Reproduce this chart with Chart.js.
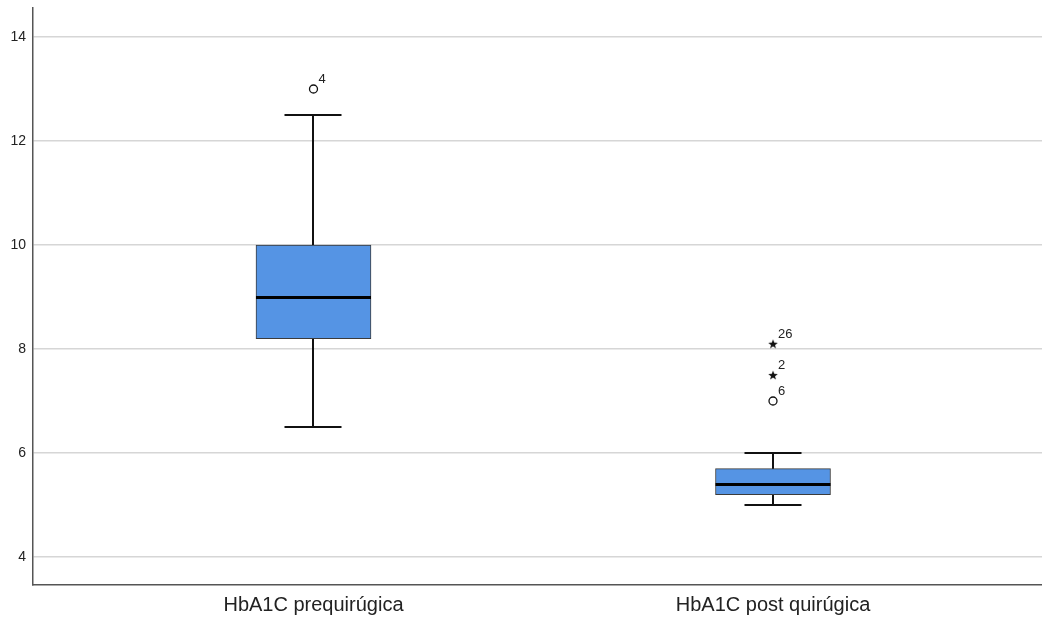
<!DOCTYPE html>
<html lang="es">
<head>
    <meta charset="UTF-8">
    <title>HbA1C boxplot</title>
    <script src="https://cdn.jsdelivr.net/npm/chart.js"></script>
    <style>
        body { margin: 0; background: #fff; }
        #wrap { width: 1042px; height: 622px; position: relative; }
    </style>
</head>
<body>
    <div id="wrap"><canvas id="boxplot"></canvas></div>

    <script>
        // Datos del diagrama de caja
        const categories = ['HbA1C prequirúgica', 'HbA1C post quirúgica'];
        const whiskerLow = [6.5, 5.0];
        const q1 = [8.2, 5.2];
        const median = [9.0, 5.4];
        const q3 = [10.0, 5.7];
        const whiskerHigh = [12.5, 6.0];
        // valores atípicos (círculo) y extremos (estrella)
        const outlierGroup = [1, 2];
        const outlierValues = [13.0, 7.0];
        const outlierLabels = ['4', '6'];
        const extremeGroup = [2, 2];
        const extremeValues = [8.1, 7.5];
        const extremeLabels = ['26', '2'];
        const yTicks = [4, 6, 8, 10, 12, 14];

        const fontFamily = 'Arial, "Liberation Sans", sans-serif';

        // estrella rellena para los extremos
        function makeStar(size) {
            const c = document.createElement('canvas');
            c.width = size; c.height = size;
            const g = c.getContext('2d');
            const r = size / 2, ri = r * 0.42;
            g.beginPath();
            for (let i = 0; i < 10; i++) {
                const rad = i % 2 === 0 ? r : ri;
                const a = -Math.PI / 2 + i * Math.PI / 5;
                const px = r + rad * Math.cos(a), py = r + rad * Math.sin(a) + 0.5;
                if (i === 0) g.moveTo(px, py); else g.lineTo(px, py);
            }
            g.closePath();
            g.fillStyle = '#111';
            g.fill();
            return c;
        }

        const boxData = categories.map((c, i) => ({ x: i + 1, y: [q1[i], q3[i]] }));
        const outlierData = outlierGroup.map((g, i) => ({ x: g, y: outlierValues[i], label: outlierLabels[i] }));
        const extremeData = extremeGroup.map((g, i) => ({ x: g, y: extremeValues[i], label: extremeLabels[i] }));

        // bigotes, tapas y mediana usando las escalas del gráfico
        const boxParts = {
            id: 'boxParts',
            beforeDatasetsDraw(chart) {
                const { ctx, scales: { x, y } } = chart;
                ctx.save();
                ctx.strokeStyle = '#111';
                ctx.lineWidth = 2;
                categories.forEach((c, i) => {
                    const cx = Math.round(x.getPixelForValue(i + 1));
                    const yLo = Math.round(y.getPixelForValue(whiskerLow[i]));
                    const yHi = Math.round(y.getPixelForValue(whiskerHigh[i]));
                    const half = 28.5;
                    ctx.beginPath();
                    ctx.moveTo(cx, yLo); ctx.lineTo(cx, yHi);
                    ctx.moveTo(cx - half, yLo); ctx.lineTo(cx + half, yLo);
                    ctx.moveTo(cx - half, yHi); ctx.lineTo(cx + half, yHi);
                    ctx.stroke();
                });
                ctx.restore();
            },
            afterDatasetsDraw(chart) {
                const { ctx, scales: { x, y } } = chart;
                ctx.save();
                ctx.strokeStyle = '#000';
                ctx.lineWidth = 3;
                categories.forEach((c, i) => {
                    const cx = x.getPixelForValue(i + 1);
                    const ym = Math.round(y.getPixelForValue(median[i])) + 0.5;
                    ctx.beginPath();
                    ctx.moveTo(cx - 57.5, ym); ctx.lineTo(cx + 57.5, ym);
                    ctx.stroke();
                });
                // etiquetas de casos
                ctx.fillStyle = '#222';
                ctx.font = '13px ' + fontFamily;
                ctx.textAlign = 'left';
                ctx.textBaseline = 'alphabetic';
                outlierData.concat(extremeData).forEach(p => {
                    const px = x.getPixelForValue(p.x);
                    const py = y.getPixelForValue(p.y);
                    ctx.fillText(p.label, px + 5, py - 6);
                });
                ctx.restore();
            }
        };

        new Chart(document.getElementById('boxplot'), {
            type: 'bar',
            data: {
                datasets: [{
                    label: 'caja',
                    data: boxData,
                    backgroundColor: '#5594E4',
                    borderColor: '#3b3b3b',
                    borderWidth: 1,
                    borderSkipped: false,
                    barThickness: 115
                }, {
                    type: 'scatter',
                    label: 'atípicos',
                    data: outlierData,
                    pointStyle: 'circle',
                    pointRadius: 4,
                    backgroundColor: '#fff',
                    borderColor: '#111',
                    borderWidth: 1.3
                }, {
                    type: 'scatter',
                    label: 'extremos',
                    data: extremeData,
                    pointStyle: makeStar(10),
                    pointRadius: 5
                }]
            },
            options: {
                responsive: true,
                maintainAspectRatio: false,
                animation: false,
                layout: { autoPadding: false, padding: { top: 8, left: 0, right: 0, bottom: 0 } },
                plugins: {
                    legend: { display: false },
                    tooltip: { enabled: false }
                },
                scales: {
                    x: {
                        type: 'linear',
                        offset: false,
                        min: 0.3896,
                        max: 2.5854,
                        grid: { display: false, drawTicks: false, offset: false },
                        border: { display: true, color: '#555', width: 1.5 },
                        afterBuildTicks(scale) {
                            scale.ticks = categories.map((c, i) => ({ value: i + 1 }));
                        },
                        afterFit(scale) {
                            scale.height = 37;
                            scale.paddingLeft = 0;
                            scale.paddingRight = 0;
                        },
                        ticks: {
                            padding: 8,
                            color: '#222',
                            font: { family: fontFamily, size: 20 },
                            callback: v => categories[v - 1]
                        }
                    },
                    y: {
                        min: 3.4615,
                        max: 14.558,
                        afterBuildTicks(scale) {
                            scale.ticks = yTicks.map(v => ({ value: v }));
                        },
                        afterFit(scale) {
                            scale.width = 33;
                            scale.paddingTop = 0;
                            scale.paddingBottom = 0;
                        },
                        grid: { color: '#d6d6d6', lineWidth: 1.5, drawTicks: false },
                        border: { display: true, color: '#555', width: 1.5 },
                        ticks: {
                            padding: 7,
                            color: '#222',
                            font: { family: fontFamily, size: 14 }
                        }
                    }
                }
            },
            plugins: [boxParts]
        });
    </script>
</body>
</html>
